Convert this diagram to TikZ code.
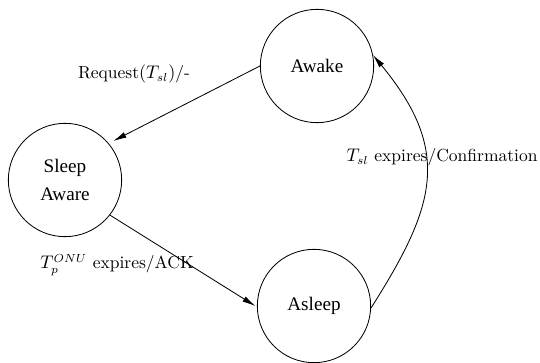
\documentclass[tikz,border=0pt]{standalone}
\usepackage{fontspec}
\newfontfamily\statefont{Liberation Serif}
\usetikzlibrary{arrows.meta}
\tikzset{
  state/.style={draw, circle, line width=0.5pt, minimum size=68pt, inner sep=0pt, align=center, font=\statefont\fontsize{11.5}{17}\selectfont},
  trans/.style={line width=0.5pt, -{Latex[length=8pt,width=3.6pt]}},
  lbl/.style={font=\fontsize{10.5}{12}\selectfont, inner sep=0pt}
}

\begin{document}
\begin{tikzpicture}[x=0.6pt, y=-0.6pt]
		%%%%% START %%%%%
		\useasboundingbox (0, 0) rectangle (540, 362);
		
		\node[state] (awake) at (317, 66) {Awake};
		\node[state] (sleepaware) at (65, 180) {Sleep\\Aware};
		\node[state] (asleep) at (314, 306) {Asleep};
		
		\node[lbl] (request) at (134, 74) {Request$(T_{sl})$/-};
		\node[lbl] (confirm) at (442, 157) {$T_{sl}$ expires/Confirmation};
		\node[lbl] (ack) at (117, 265) {$T_p^{ONU}$ expires/ACK};
		
		\draw[trans, shorten >=3pt] (awake.180) -- (sleepaware.40);
		\draw[trans, shorten >=1pt] (sleepaware.-38) -- (asleep.181);
		\draw[trans] (asleep.-2) .. controls (435, 207) and (453, 152) .. (awake.11);
		
		%%%%% END %%%%%
	\end{tikzpicture}
\end{document}
